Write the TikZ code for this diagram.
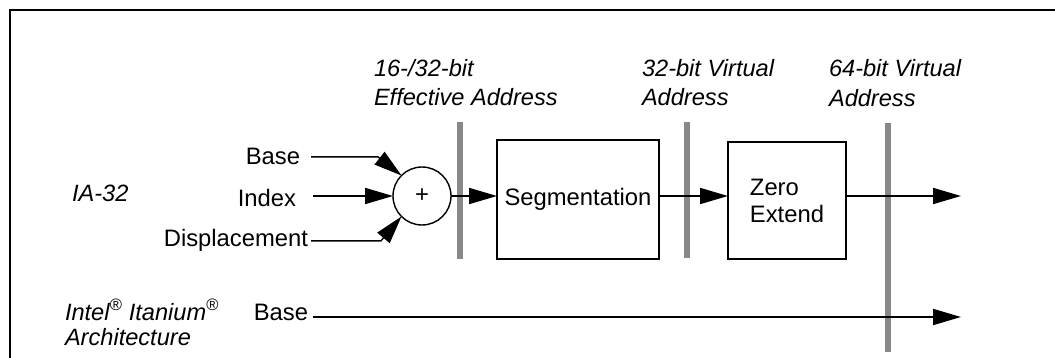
\documentclass[tikz,border=0pt]{standalone}
\usepackage{fontspec}
\setmainfont{Liberation Sans}
\usetikzlibrary{arrows.meta}
\definecolor{bargray}{RGB}{136,136,136}
\begin{document}
\begin{tikzpicture}[x=1pt,y=-1pt,
  every node/.style={inner sep=0pt,outer sep=0pt,font=\fontsize{23.8}{27}\selectfont},
  lbl/.style={anchor=base east},
  ital/.style={anchor=base west,font=\fontsize{23.6}{27}\selectfont\itshape},
  conn/.style={line width=1.8pt,-{Triangle[length=28pt,width=16pt]}},
  boxnode/.style={draw,line width=2.2pt,rectangle},
  bar/.style={draw=bargray,line width=5.5pt},
  frame/.style={line width=1.6pt}]
\useasboundingbox (0,0) rectangle (1055,358);
% frame (top and left)
\draw[frame] (10,358) -- (10,10) -- (1055,10);
% gray bars
\draw[bar] (460,122) -- (460,259);
\draw[bar] (687,122) -- (687,258);
\draw[bar] (888,123) -- (888,352);
% headings
\node[ital] (h1a) at (374,77) {16-/32-bit};
\node[ital] (h1b) at (374,106) {Effective Address};
\node[ital] (h2a) at (642,77) {32-bit Virtual};
\node[ital] (h2b) at (642,106) {Address};
\node[ital] (h3a) at (829,77) {64-bit Virtual};
\node[ital] (h3b) at (829,107) {Address};
\node[ital] (ia) at (72,202) {IA-32};
\node[ital] (intel) at (65,320) {Intel\textsuperscript{®} Itanium\textsuperscript{®}};
\node[ital] (arch) at (65,345) {Architecture};
% adder and boxes
\node[draw,circle,line width=1.4pt,minimum size=58pt] (plus) at (422,196) {+};
\node[boxnode,minimum width=162pt,minimum height=119pt] (seg) at (578,199.5) {Segmentation};
\node[boxnode,minimum width=118pt,minimum height=117pt,align=left] (zero) at (787,200.5) {Zero\\Extend};
% inputs
\node[lbl] (base) at (300,165) {Base};
\node[lbl] (index) at (296,207) {Index};
\node[lbl] (disp) at (308,247) {Displacement};
\node[lbl] (base2) at (308,320) {Base};
\coordinate (out1) at (961,196);
\coordinate (out2) at (961,317);
\draw[conn,line width=1.4pt] ([xshift=11pt]base.east) -- ++(67,0) -- (plus.135);
\draw[conn] ([xshift=17pt]plus.west -| index.east) -- (plus.west);
\draw[conn,line width=1.4pt] ([xshift=3pt]disp.east) -- ++(70,0) -- (plus.225);
% flow
\draw[conn] (plus.east) -- (plus.east -| seg.west);
\draw[conn] (seg.east |- plus.east) -- (zero.west |- plus.east);
\draw[conn] (zero.east |- out1) -- (out1);
\draw[conn] ([xshift=5pt]base2.east |- out2) -- (out2);
\end{tikzpicture}
\end{document}
